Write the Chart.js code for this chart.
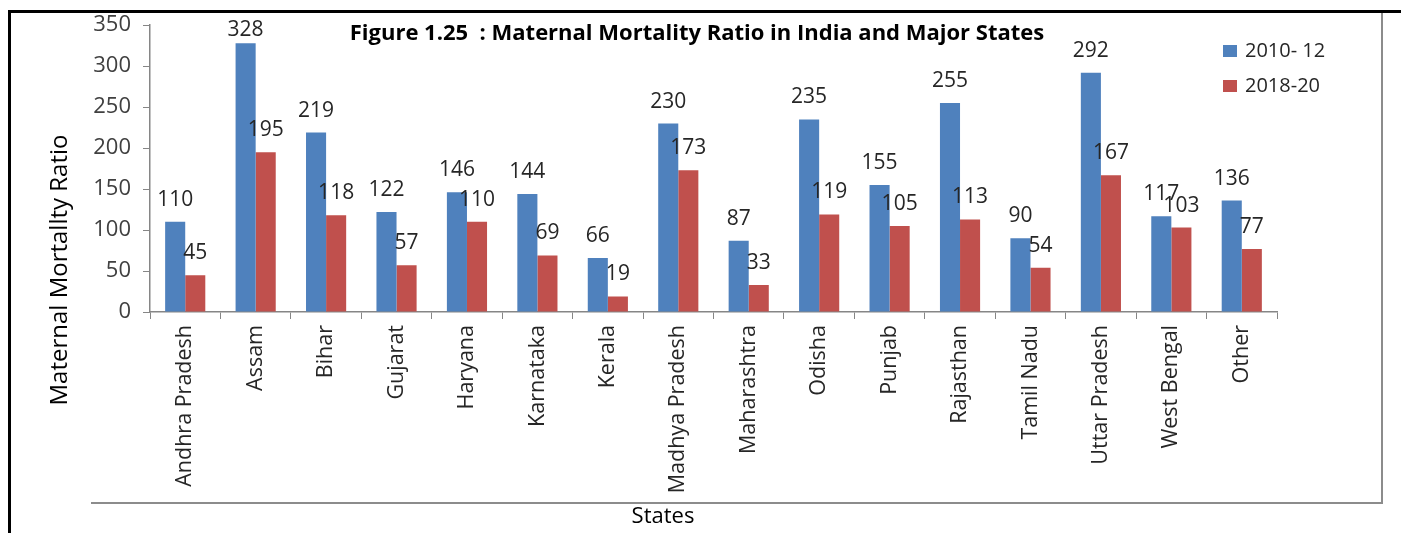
<!DOCTYPE html>
<html>
<head>
<meta charset="utf-8">
<title>Maternal Mortality Ratio</title>
<script src="https://cdn.jsdelivr.net/npm/chart.js@4.4.1/dist/chart.umd.min.js"></script>
<style>
  body { margin: 0; background: #fff; }
  #wrap { position: relative; width: 1401px; height: 533px; overflow: hidden; }
  #wrap canvas { position: absolute; left: 0; top: 0; }
  .line { position: absolute; }
  .top-rule { left: 8px; top: 10px; width: 1393px; height: 3px; background: #000; }
  .left-rule { left: 8px; top: 10px; width: 3px; height: 523px; background: #000; }
  .frame-right { left: 1381px; top: 13px; width: 2px; height: 491px; background: #8c8c8c; }
  .frame-bottom { left: 91px; top: 502px; width: 1292px; height: 2px; background: #8c8c8c; }
</style>
</head>
<body>
<div id="wrap">
  <canvas id="mmrChart" width="1401" height="533"></canvas>
  <div class="line top-rule"></div>
  <div class="line left-rule"></div>
  <div class="line frame-right"></div>
  <div class="line frame-bottom"></div>
</div>
<script>
// Chart data
const states = ["Andhra Pradesh", "Assam", "Bihar", "Gujarat", "Haryana", "Karnataka", "Kerala",
  "Madhya Pradesh", "Maharashtra", "Odisha", "Punjab", "Rajasthan", "Tamil Nadu",
  "Uttar Pradesh", "West Bengal", "Other"];
const mmr2010 = [110, 328, 219, 122, 146, 144, 66, 230, 87, 235, 155, 255, 90, 292, 117, 136];
const mmr2018 = [45, 195, 118, 57, 110, 69, 19, 173, 33, 119, 105, 113, 54, 167, 103, 77];
const seriesNames = ["2010- 12", "2018-20"];
const yMin = 0, yMax = 350, yStep = 50;

const FONT = "'Open Sans', 'DejaVu Sans', sans-serif";
const BLUE = "#4f81bd";
const RED = "#c0504d";

// Value labels above each bar (kept inside the plot area like Excel does)
const barLabels = {
  id: "barLabels",
  afterDatasetsDraw(chart) {
    const ctx = chart.ctx;
    const minBaseline = chart.chartArea.top + 11;
    ctx.save();
    ctx.font = "21px " + FONT;
    ctx.fillStyle = "#262626";
    ctx.textAlign = "center";
    ctx.textBaseline = "alphabetic";
    chart.data.datasets.forEach((ds, i) => {
      chart.getDatasetMeta(i).data.forEach((bar, j) => {
        ctx.fillText(ds.data[j], bar.x, Math.max(bar.y - 16, minBaseline));
      });
    });
    ctx.restore();
  }
};

// Title, legend and axis titles drawn like the original
const titleAndLegend = {
  id: "titleAndLegend",
  afterDraw(chart) {
    const ctx = chart.ctx;
    ctx.save();
    ctx.fillStyle = "#000";
    ctx.font = "bold 22px " + FONT;
    ctx.textAlign = "center";
    ctx.fillText("Figure 1.25  : Maternal Mortality Ratio in India and Major States", 697, 40);

    ctx.font = "22px " + FONT;
    ctx.fillText("States", 663, 523);

    // y axis title, centred lower than the plot like the source
    ctx.save();
    ctx.translate(60, 270);
    ctx.rotate(-Math.PI / 2);
    ctx.font = "24px " + FONT;
    ctx.textBaseline = "middle";
    ctx.fillText("Maternal Mortallty Ratio", 0, 0);
    ctx.restore();

    ctx.font = "20px " + FONT;
    ctx.textAlign = "left";
    ctx.textBaseline = "middle";
    chart.data.datasets.forEach((ds, i) => {
      const y = 51 + i * 35;
      ctx.fillStyle = ds.backgroundColor;
      ctx.fillRect(1223, y - 6, 14, 12);
      ctx.fillStyle = "#262626";
      ctx.fillText(ds.label, 1245, y);
    });
    ctx.restore();
  }
};

new Chart(document.getElementById("mmrChart"), {
  type: "bar",
  data: {
    labels: states,
    datasets: [
      { label: seriesNames[0], data: mmr2010, backgroundColor: BLUE },
      { label: seriesNames[1], data: mmr2018, backgroundColor: RED }
    ]
  },
  options: {
    responsive: false,
    animation: false,
    events: [],
    layout: { padding: { left: 40, top: 24, right: 124, bottom: 0 } },
    datasets: { bar: { categoryPercentage: 0.57, barPercentage: 1.0 } },
    plugins: { legend: { display: false }, title: { display: false }, tooltip: { enabled: false } },
    scales: {
      x: {
        grid: { drawOnChartArea: false, tickLength: 7, color: "#868686", offset: true },
        border: { color: "#868686", width: 1.5 },
        ticks: { minRotation: 90, maxRotation: 90, autoSkip: false, padding: 6,
          color: "#262626", font: { family: FONT, size: 21.5 } },
        afterFit(scale) { scale.height = 221; }
      },
      y: {
        min: yMin, max: yMax,
        grid: { drawOnChartArea: false, tickLength: 7, color: "#868686" },
        border: { color: "#868686", width: 1.5 },
        ticks: { stepSize: yStep, padding: 12, color: "#404040", font: { family: FONT, size: 22 } },
        afterFit(scale) { scale.width = 110; }
      }
    }
  },
  plugins: [barLabels, titleAndLegend]
});
</script>
</body>
</html>
